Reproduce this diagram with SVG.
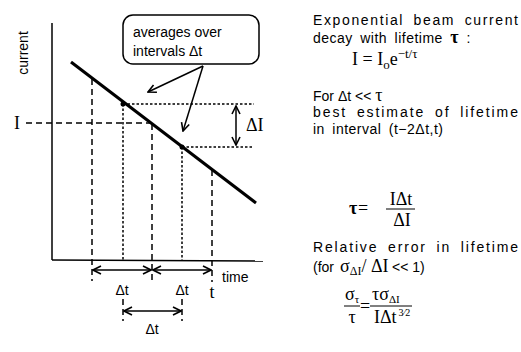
<svg xmlns="http://www.w3.org/2000/svg" width="521" height="352" viewBox="0 0 521 352">
<style>
.ax{stroke:#000;stroke-width:1.5;fill:none}
.dl{stroke:#000;stroke-width:1.5;fill:none;stroke-dasharray:6,4}
.dt{stroke:#000;stroke-width:1.5;fill:none;stroke-dasharray:2.5,2}
.ar{stroke:#000;stroke-width:1.5;fill:none;marker-start:url(#ah);marker-end:url(#ah)}
.ar1{stroke:#000;stroke-width:1.5;fill:none;marker-end:url(#ah)}
.s{font-family:"Liberation Sans",Arial,sans-serif;font-size:14px;fill:#000}
.w{font-family:"Liberation Sans",Arial,sans-serif;font-size:14px;fill:#000;word-spacing:4px}
.n{font-family:"Liberation Sans",Arial,sans-serif;font-size:14px;fill:#000;letter-spacing:0.5px;word-spacing:3px}
.m{font-family:"Liberation Serif","Times New Roman",serif;font-size:18px;fill:#000}
.fb{stroke:#000;stroke-width:1}
</style>
<defs>
<marker id="ah" viewBox="0 0 10 10" refX="9" refY="5" markerWidth="10" markerHeight="10" orient="auto-start-reverse" markerUnits="userSpaceOnUse">
<path d="M1,1 L9,5 L1,9" fill="none" stroke="#000" stroke-width="1.6"/>
</marker>
</defs>

<g id="plot">
<line class="ax" x1="52" y1="23" x2="52" y2="260"/>
<line class="ax" x1="52" y1="260" x2="263" y2="261"/>
<line x1="71" y1="62" x2="256" y2="203" stroke="#000" stroke-width="3"/>
<circle cx="123" cy="104" r="2.5"/>
<circle cx="182" cy="147" r="2.5"/>
<text class="s" transform="translate(28,53) rotate(-90)" text-anchor="middle">current</text>
<text class="m" x="14" y="129">I</text>
<text class="s" x="222" y="282">time</text>
</g>

<g id="connectors">
<line class="dl" x1="92" y1="79" x2="92" y2="281"/>
<line class="dl" x1="152" y1="124" x2="152" y2="282"/>
<line class="dl" x1="212" y1="170" x2="212" y2="282"/>
<line class="dt" x1="123" y1="104" x2="123" y2="260"/>
<line class="dt" x1="182" y1="147" x2="182" y2="260"/>
<line class="dl" x1="123" y1="299" x2="123" y2="321"/>
<line class="dl" x1="182" y1="299" x2="182" y2="321"/>
<line class="dl" x1="26" y1="123" x2="152" y2="123"/>
<line class="dt" x1="123" y1="104" x2="254" y2="104"/>
<line class="dt" x1="182" y1="147" x2="254" y2="147"/>
<line class="ar" x1="236" y1="106" x2="236" y2="145"/>
<line class="ar1" x1="203" y1="66" x2="148" y2="92"/>
<line class="ar1" x1="203" y1="66" x2="183" y2="131"/>
<line class="ar" x1="93" y1="270" x2="151" y2="270"/>
<line class="ar" x1="153" y1="270" x2="211" y2="270"/>
<line class="ar" x1="124" y1="311" x2="181" y2="311"/>
</g>

<g id="callout">
<rect x="123" y="15" width="136" height="49" rx="10" fill="#fff" stroke="#000" stroke-width="1.5"/>
<text class="s" x="133" y="37">averages over</text>
<text class="s" x="133" y="56">intervals Δt</text>
</g>

<g id="labels">
<text class="m" x="246" y="131">ΔI</text>
<text class="s" x="122" y="295" text-anchor="middle" font-size="16">Δt</text>
<text class="s" x="182" y="295" text-anchor="middle" font-size="16">Δt</text>
<text class="m" x="212" y="298" text-anchor="middle">t</text>
<text class="s" x="152" y="334" text-anchor="middle" font-size="16">Δt</text>
</g>

<g id="notes">
<text class="w" x="313" y="25" textLength="205" lengthAdjust="spacing">Exponential beam current</text>
<text class="n" x="313" y="43">decay with lifetime <tspan class="m" font-weight="bold" font-size="17">τ</tspan> :</text>
<text class="m" x="352" y="65">I = I<tspan font-size="13" dy="4">o</tspan><tspan dy="-4">e</tspan><tspan font-size="13" dy="-7">−t/τ</tspan></text>
<text class="s" x="313" y="101" font-size="15">For Δt &lt;&lt; <tspan class="m">τ</tspan></text>
<text class="w" x="313" y="117" textLength="205" lengthAdjust="spacing">best estimate of lifetime</text>
<text class="n" x="313" y="134">in interval (t−2Δt,t)</text>

<text class="m" x="349" y="214" font-weight="bold">τ</text>
<text class="m" x="358" y="214">=</text>
<text class="m" x="401" y="205" text-anchor="middle">IΔt</text>
<line class="fb" x1="386" y1="209" x2="415" y2="209"/>
<text class="m" x="402" y="226" text-anchor="middle">ΔI</text>

<text class="w" x="313" y="252" textLength="205" lengthAdjust="spacing">Relative error in lifetime</text>
<text class="s" x="313" y="272">(for</text>
<text class="m" x="340" y="272">σ<tspan font-size="12" dy="3">ΔI</tspan><tspan dy="-3">/ ΔI</tspan></text>
<text class="s" x="392" y="272" font-size="13">&lt;&lt; 1)</text>

<text class="m" x="345" y="300">σ<tspan font-size="11" dy="3">τ</tspan></text>
<line class="fb" x1="344" y1="306" x2="360" y2="306"/>
<text class="m" x="352" y="323" text-anchor="middle">τ</text>
<text class="m" x="360" y="312">=</text>
<text class="m" x="372" y="300">τσ<tspan font-size="11" dy="3">ΔI</tspan></text>
<line class="fb" x1="370" y1="306" x2="412" y2="306"/>
<text class="m" x="374" y="323">IΔt<tspan font-size="10" dy="-7" dx="2">3⁄2</tspan></text>
</g>
</svg>
